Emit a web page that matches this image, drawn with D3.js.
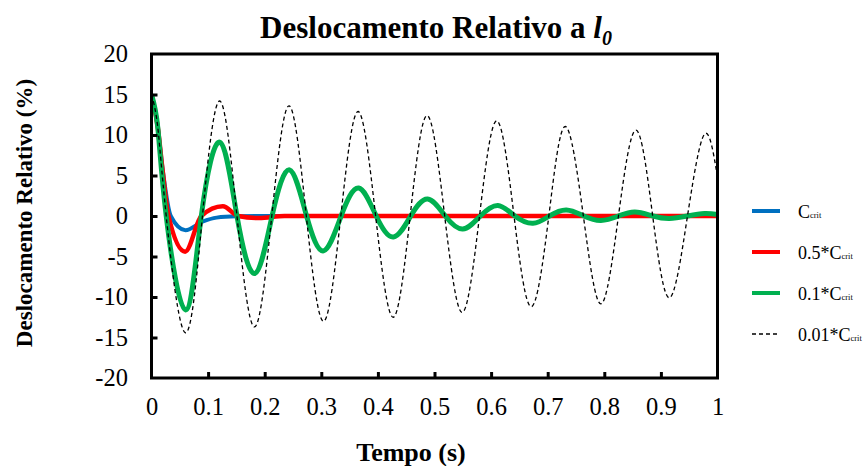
<!DOCTYPE html>
<html>
<head>
<meta charset="utf-8">
<script src="https://cdn.jsdelivr.net/npm/d3@7"></script>
<style>
  body { margin: 0; background: #fff; }
  svg { font-family: "Liberation Serif", "Times New Roman", serif; }
</style>
</head>
<body>
<svg width="865" height="466"></svg>
<script>
// values: [tempo (s), deslocamento (%)]
const cCrit = [
  [0, 15], [0.011, 11], [0.02, 5.6], [0.034, 0], [0.06, -1.75], [0.09, -0.7],
  [0.115, -0.2], [0.15, -0.04], [0.2, 0], [0.3, 0], [0.4, 0], [0.5, 0],
  [0.6, 0], [0.7, 0], [0.8, 0], [0.9, 0], [1, 0]
]
const c05 = [
  [0, 15], [0.011, 11], [0.02, 5.4], [0.03, 0], [0.0595, -4.4], [0.088, 0],
  [0.126, 1.2], [0.153, 0], [0.19, -0.25], [0.235, 0], [0.3, 0], [0.4, 0],
  [0.5, 0], [0.6, 0], [0.7, 0], [0.8, 0], [0.9, 0], [1, 0]
]
const c01 = [
  [0, 15], [0.011, 11], [0.026, 0], [0.06, -11.6], [0.088, 0], [0.121, 9.1],
  [0.151, 0], [0.1826, -7.1], [0.213, 0], [0.2438, 5.7], [0.274, 0], [0.304, -4.3],
  [0.335, 0], [0.366, 3.45], [0.397, 0], [0.4276, -2.6], [0.458, 0], [0.488, 2.1],
  [0.519, 0], [0.55, -1.6], [0.581, 0], [0.612, 1.3], [0.642, 0], [0.674, -0.9],
  [0.703, 0], [0.733, 0.75], [0.764, 0], [0.794, -0.55], [0.825, 0], [0.854, 0.5],
  [0.886, 0], [0.915, -0.3], [0.947, 0], [0.977, 0.3], [1, 0.18]
]
const c001 = [
  [0, 15], [0.011, 11], [0.026, 0], [0.0595, -14.4], [0.09, 0], [0.1205, 14.2],
  [0.151, 0], [0.182, -13.7], [0.2125, 0], [0.243, 13.6], [0.2735, 0], [0.304, -13.0],
  [0.3345, 0], [0.365, 12.9], [0.396, 0], [0.427, -12.5], [0.457, 0], [0.487, 12.4],
  [0.518, 0], [0.549, -11.9], [0.5795, 0], [0.61, 11.75], [0.6405, 0], [0.671, -11.2],
  [0.702, 0], [0.731, 11.05], [0.763, 0], [0.794, -10.85], [0.825, 0], [0.856, 10.6],
  [0.8855, 0], [0.915, -10.1], [0.947, 0], [0.977, 10.1], [1, 4.8]
]
const xTicks = [0, 0.1, 0.2, 0.3, 0.4, 0.5, 0.6, 0.7, 0.8, 0.9, 1]
const yTicks = [-20, -15, -10, -5, 0, 5, 10, 15, 20]

const series = [
  { name: "C", sub: "crit", data: cCrit, color: "#0070C0", width: 4, curve: d3.curveMonotoneX },
  { name: "0.5*C", sub: "crit", data: c05, color: "#FF0000", width: 4.5, curve: d3.curveMonotoneX },
  { name: "0.1*C", sub: "crit", data: c01, color: "#00B050", width: 5, curve: d3.curveNatural },
  { name: "0.01*C", sub: "crit", data: c001, color: "#000", width: 1.3, dash: "4,3", curve: d3.curveNatural }
]

const svg = d3.select("svg")
const pLeft = 151.5, pRight = 717.5, pTop = 54, pBottom = 378

const x = d3.scaleLinear().domain([0, 1]).range([pLeft, pRight])
const y = d3.scaleLinear().domain([-20, 20]).range([pBottom, pTop])

svg.append("clipPath").attr("id", "plot")
  .append("rect")
  .attr("x", pLeft).attr("y", pTop)
  .attr("width", pRight - pLeft).attr("height", pBottom - pTop)

const lines = svg.append("g").attr("clip-path", "url(#plot)")

series.forEach(s => {
  const line = d3.line()
    .x(d => x(d[0]))
    .y(d => y(d[1]))
    .curve(s.curve)

  lines.append("path")
    .datum(s.data)
    .attr("d", line)
    .attr("fill", "none")
    .attr("stroke", s.color)
    .attr("stroke-width", s.width)
    .attr("stroke-dasharray", s.dash || null)
})

// frame
svg.append("rect")
  .attr("x", pLeft).attr("y", pTop)
  .attr("width", pRight - pLeft).attr("height", pBottom - pTop)
  .attr("fill", "none")
  .attr("stroke", "#000")
  .attr("stroke-width", 3)

// axes with inward ticks, plain hyphen for negatives
const xAxis = svg.append("g")
  .attr("transform", `translate(0,${pBottom})`)
  .call(d3.axisBottom(x).tickValues(xTicks).tickSize(-6).tickPadding(20).tickFormat(d => String(d)))
const yAxis = svg.append("g")
  .attr("transform", `translate(${pLeft},0)`)
  .call(d3.axisLeft(y).tickValues(yTicks).tickSize(-6).tickPadding(23.5).tickFormat(d => String(d)))

;[xAxis, yAxis].forEach(a => {
  a.select(".domain").remove()
  a.selectAll(".tick line").attr("stroke", "#000").attr("stroke-width", 3)
  a.selectAll(".tick text")
    .attr("fill", "#000")
    .style("font-family", "Liberation Serif")
    .style("font-size", "24.5px")
})
xAxis.selectAll(".tick").filter(d => d === 0 || d === 1).select("line").remove()
yAxis.selectAll(".tick").filter(d => d === -20 || d === 20).select("line").remove()

// title
const title = svg.append("text")
  .attr("x", 436).attr("y", 38)
  .attr("text-anchor", "middle")
  .style("font-size", "31px")
  .style("font-weight", "bold")
title.append("tspan").text("Deslocamento Relativo a ")
title.append("tspan").text("l").style("font-style", "italic")
title.append("tspan").text("0").style("font-style", "italic")
  .style("font-size", "20px").attr("dy", 7)

svg.append("text")
  .attr("x", 411).attr("y", 461)
  .attr("text-anchor", "middle")
  .style("font-size", "26px")
  .style("font-weight", "bold")
  .text("Tempo (s)")

svg.append("text")
  .attr("transform", "translate(32,213) rotate(-90)")
  .attr("text-anchor", "middle")
  .style("font-size", "23px")
  .style("font-weight", "bold")
  .text("Deslocamento Relativo (%)")

// legend
const legend = svg.append("g")
const legendY = [211, 252, 293, 334]
series.forEach((s, i) => {
  const g = legend.append("g").attr("transform", `translate(0,${legendY[i]})`)
  g.append("line")
    .attr("x1", 752).attr("x2", 780)
    .attr("stroke", s.color)
    .attr("stroke-width", s.dash ? 1.3 : 4)
    .attr("stroke-dasharray", s.dash || null)
  const t = g.append("text")
    .attr("x", 798).attr("y", 6.5)
    .style("font-size", "18px")
  t.append("tspan").text(s.name)
  t.append("tspan").text(s.sub).style("font-size", "8.5px")
})
</script>
</body>
</html>
